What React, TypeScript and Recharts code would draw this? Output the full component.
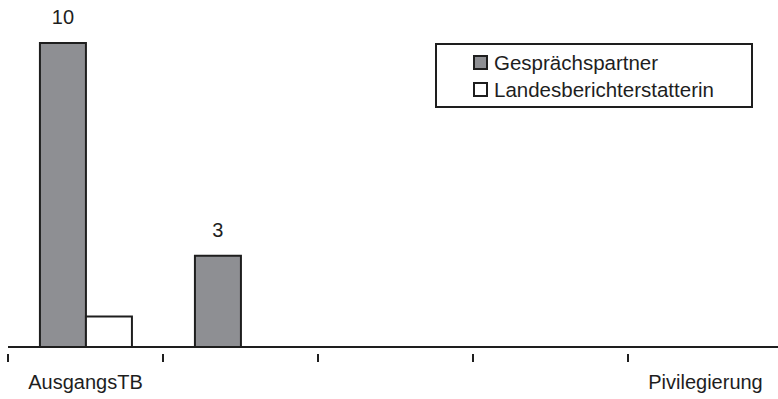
import { BarChart, Bar, XAxis, YAxis, LabelList } from "recharts";

const categories = ["AusgangsTB", "", "", "", "Pivilegierung"];
const gespraechspartner = [10, 3, 0, 0, 0];
const landesberichterstatterin = [1, 0, 0, 0, 0];

const data = categories.map((name, i) => ({
    name,
    gespraechspartner: gespraechspartner[i],
    landesberichterstatterin: landesberichterstatterin[i],
}));

const FONT = '"Liberation Sans", Arial, sans-serif';
const INK = "#1e1e1e";
const GREY = "#8e8f93";

const CHART_W = 783;
const CHART_H = 399;
const MARGIN = { top: 43, right: 0, left: 8, bottom: 0 };
const BAND = (CHART_W - MARGIN.left - MARGIN.right) / categories.length;

// tick mark sits on the left edge of each category, label stays centred
const BoundaryTick = (props: any) => {
    const { x, y, payload } = props;
    const edge = x - BAND / 2;
    return (
        <g>
            <line x1={edge} y1={y - 1} x2={edge} y2={y + 7} stroke={INK} strokeWidth={2} />
            <text
                x={x}
                y={y + 34}
                textAnchor="middle"
                fontFamily={FONT}
                fontSize={20}
                fill={INK}
            >
                {payload.value}
            </text>
        </g>
    );
};

const legendItems = [
    { label: "Gesprächspartner", fill: GREY },
    { label: "Landesberichterstatterin", fill: "#ffffff" },
];

function ChartLegend() {
    return (
        <div
            style={{
                position: "absolute",
                left: 435,
                top: 43,
                width: 318,
                height: 65,
                border: `2px solid ${INK}`,
                boxSizing: "border-box",
                background: "#fff",
                fontFamily: FONT,
                fontSize: 20.5,
                color: INK,
                paddingLeft: 36,
                paddingTop: 4,
            }}
        >
            {legendItems.map((item) => (
                <div key={item.label} style={{ display: "flex", alignItems: "center", height: 27 }}>
                    <span
                        style={{
                            display: "inline-block",
                            width: 11,
                            height: 11,
                            border: `2px solid ${INK}`,
                            background: item.fill,
                            marginRight: 6,
                        }}
                    />
                    <span>{item.label}</span>
                </div>
            ))}
        </div>
    );
}

export default function App() {
    return (
        <div
            style={{
                position: "absolute",
                left: 0,
                top: 0,
                width: 778,
                height: 399,
                overflow: "hidden",
                background: "#fff",
            }}
        >
            <BarChart
                width={CHART_W}
                height={CHART_H}
                data={data}
                margin={MARGIN}
                barCategoryGap="20.6%"
                barGap={0}
            >
                <XAxis
                    dataKey="name"
                    interval={0}
                    height={52}
                    stroke={INK}
                    strokeWidth={2}
                    tickLine={false}
                    tick={<BoundaryTick />}
                />
                <YAxis hide domain={[0, 10]} />
                <Bar
                    dataKey="gespraechspartner"
                    fill={GREY}
                    stroke={INK}
                    strokeWidth={2}
                    isAnimationActive={false}
                >
                    <LabelList
                        dataKey="gespraechspartner"
                        position="top"
                        offset={19}
                        fill={INK}
                        fontFamily={FONT}
                        fontSize={20}
                        formatter={(v: any) => (v ? v : "")}
                    />
                </Bar>
                <Bar
                    dataKey="landesberichterstatterin"
                    fill="#ffffff"
                    stroke={INK}
                    strokeWidth={2}
                    isAnimationActive={false}
                />
            </BarChart>
            <ChartLegend />
        </div>
    );
}
